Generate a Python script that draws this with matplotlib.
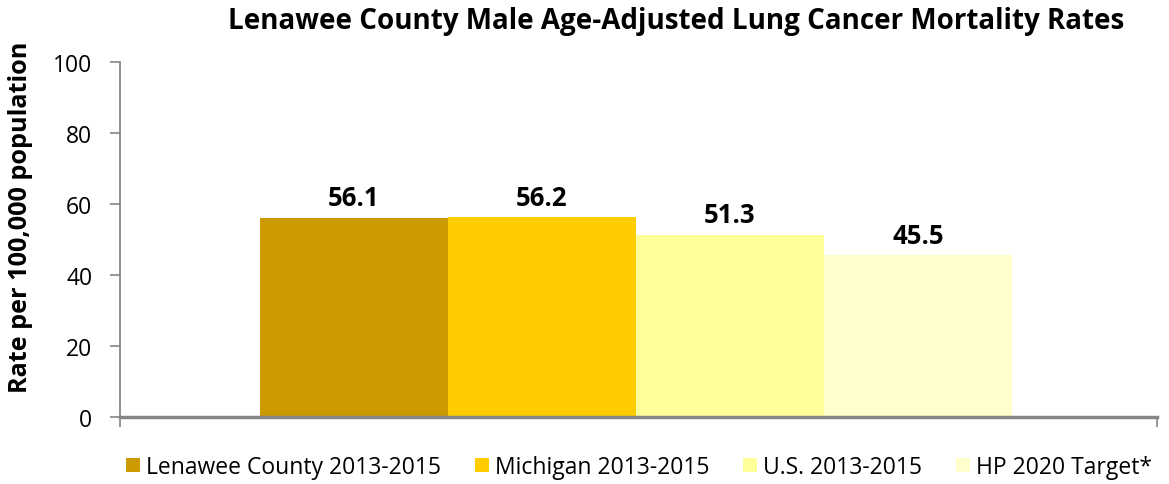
import matplotlib
matplotlib.use("Agg")
import matplotlib.pyplot as plt
from matplotlib.patches import Patch

plt.rcParams['font.family'] = ['Open Sans', 'DejaVu Sans']

series = ["Lenawee County 2013-2015", "Michigan 2013-2015", "U.S. 2013-2015", "HP 2020 Target*"]
values = [56.1, 56.2, 51.3, 45.5]
colors = ["#CC9900", "#FFCC00", "#FFFF99", "#FFFFCC"]
yticks = [0, 20, 40, 60, 80, 100]

fig = plt.figure(figsize=(11.69, 4.85), dpi=100)
ax = fig.add_axes([120/1169, 1-418/485, (1157-120)/1169, (418-63)/485])

n = len(series)
group = 752/1037
w = group/n
for i, (s, v, c) in enumerate(zip(series, values, colors)):
    x = -group/2 + w*(i+0.5)
    ax.bar(x, v, width=w, color=c, label=s, zorder=2)
    ax.annotate(f"{v:.1f}", (x, v), xytext=(0, 5), textcoords="offset points",
                ha="center", va="bottom", fontsize=18.5, fontweight="bold")

off = 0.0024
ax.set_xlim(-0.5 + off, 0.5 + off)
ax.set_ylim(0, 100)
ax.set_yticks(yticks)
ax.set_yticklabels([str(t) for t in yticks], fontsize=16.5)
ax.set_xticks([-0.5 + off, 0.5 + off])
ax.set_xticklabels([])
ax.tick_params(axis='x', length=7, color="#868686", width=1.2, direction='out')
ax.tick_params(axis='y', length=7, color="#868686", width=1.2, direction='out', pad=13)
for s in ["top", "right"]:
    ax.spines[s].set_visible(False)
ax.spines["left"].set_color("#868686")
ax.spines["left"].set_linewidth(1.3)
ax.spines["bottom"].set_color("#868686")
ax.spines["bottom"].set_linewidth(2.5)
ax.spines["bottom"].set_zorder(3)

ax.set_ylabel("Rate per 100,000 population", fontsize=18.2, fontweight="bold")
ax.yaxis.set_label_coords((33-120)/1037, (418-217)/355)

fig.text(676/1169, 1-22/485, "Lenawee County Male Age-Adjusted Lung Cancer Mortality Rates",
         ha="center", va="center", fontsize=20, fontweight="bold")

handles = [Patch(facecolor=c, label=s) for s, c in zip(series, colors)]
fig.legend(handles=handles, loc="center", bbox_to_anchor=(639/1169, 1-468/485), ncol=4,
           frameon=False, fontsize=16.5, handlelength=0.6, handleheight=0.6,
           handletextpad=0.25, columnspacing=1.5, borderpad=0, borderaxespad=0)

fig.savefig("out.png", dpi=100)
